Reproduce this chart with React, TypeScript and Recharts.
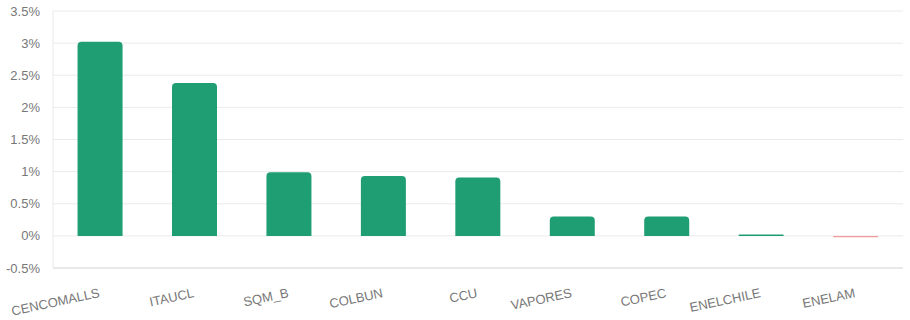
import { BarChart, Bar, XAxis, YAxis, CartesianGrid, Cell } from "recharts";

const tickers = ["CENCOMALLS", "ITAUCL", "SQM_B", "COLBUN", "CCU", "VAPORES", "COPEC", "ENELCHILE", "ENELAM"];
const returns = [3.02, 2.38, 0.99, 0.93, 0.91, 0.3, 0.3, 0.02, -0.02];
const yTicks = [-0.5, 0, 0.5, 1, 1.5, 2, 2.5, 3, 3.5];

const data = tickers.map((t, i) => ({ ticker: t, ret: returns[i] }));

const UP = "#1f9e74";
const DOWN = "#f19a9a";
const FONT = "'Liberation Sans', Arial, sans-serif";

function TickerLabel({ x, y, payload }: { x?: number; y?: number; payload?: { value: string } }) {
  const ty = (y ?? 0) + 27;
  return (
    <text x={x} y={ty} transform={`rotate(-12, ${x}, ${ty})`} textAnchor="end" fill="#777"
      fontSize={13} fontFamily={FONT}>
      {payload?.value}
    </text>
  );
}

export default function App() {
  return (
    <div style={{ position: "absolute", left: 0, top: 0, width: 910, height: 320, background: "#fff" }}>
      <BarChart width={910} height={320} data={data} margin={{ top: 11, right: 7, left: 0, bottom: 0 }}
        barCategoryGap="26%">
        <CartesianGrid vertical={false} stroke="#ebebeb" />
        <XAxis dataKey="ticker" interval={0} height={52} axisLine={{ stroke: "#dcdcdc" }} tickLine={false}
          tickSize={0} tick={<TickerLabel />} />
        <YAxis type="number" domain={[-0.5, 3.5]} ticks={yTicks} width={53} axisLine={{ stroke: "#e8e8e8" }}
          tickLine={false} tickSize={0} tickMargin={13} tickFormatter={(v) => `${v}%`}
          tick={{ fill: "#777", fontSize: 13, fontFamily: FONT }} />
        <Bar dataKey="ret" radius={[4, 4, 0, 0]} isAnimationActive={false}>
          {data.map((d, i) => <Cell key={i} fill={d.ret >= 0 ? UP : DOWN} />)}
        </Bar>
      </BarChart>
    </div>
  );
}
